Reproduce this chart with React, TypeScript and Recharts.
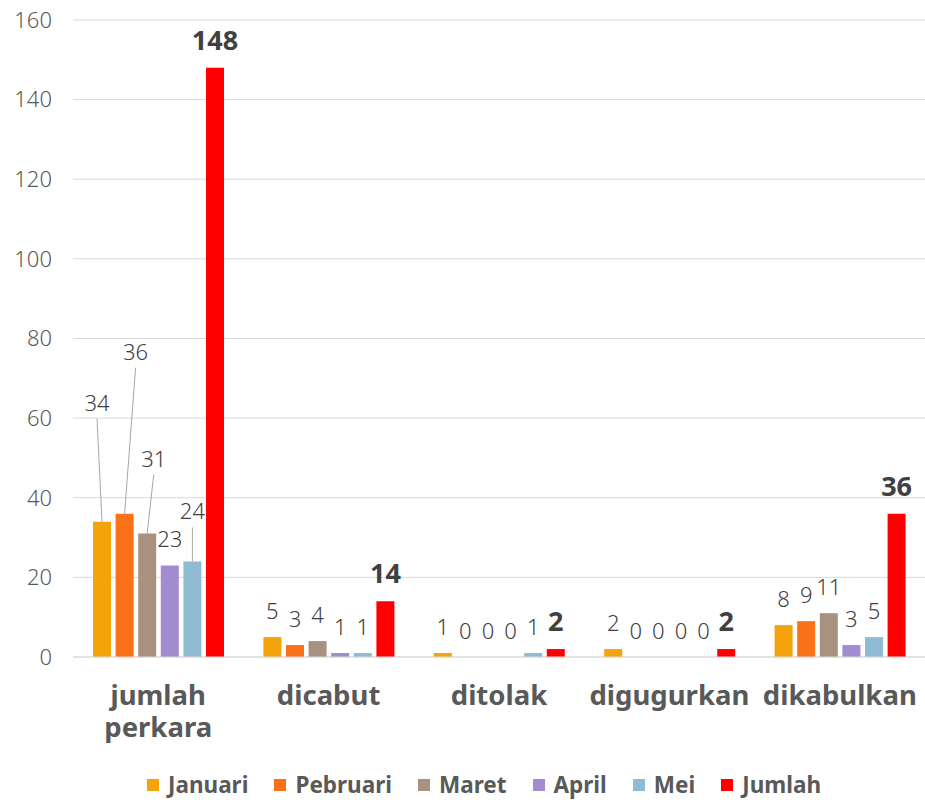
import React from 'react';
import { BarChart, Bar, XAxis, YAxis, CartesianGrid, LabelList, Legend } from 'recharts';

document.body.style.margin = '0';

const categories = ['jumlah perkara', 'dicabut', 'ditolak', 'digugurkan', 'dikabulkan'];
const januari = [34, 5, 1, 2, 8];
const pebruari = [36, 3, 0, 0, 9];
const maret = [31, 4, 0, 0, 11];
const april = [23, 1, 0, 0, 3];
const mei = [24, 1, 1, 0, 5];
const jumlah = [148, 14, 2, 2, 36];
const yTicks = [0, 20, 40, 60, 80, 100, 120, 140, 160];

const series = [
  { key: 'Januari', values: januari, color: '#F4A30A' },
  { key: 'Pebruari', values: pebruari, color: '#FB7118' },
  { key: 'Maret', values: maret, color: '#A99180' },
  { key: 'April', values: april, color: '#A28BCF' },
  { key: 'Mei', values: mei, color: '#8FBBD3' },
  { key: 'Jumlah', values: jumlah, color: '#FF0000' },
];

const data = categories.map((name, i) => {
  const row: Record<string, string | number> = { name };
  series.forEach(s => { row[s.key] = s.values[i]; });
  return row;
});

const FONT = '"Noto Sans", "DejaVu Sans", sans-serif';

// labels in the first group are pulled up with leader lines, like the original
const leaderOffsets: Record<string, { dx: number; dy: number }> = {
  Januari: { dx: -5, dy: -93 },
  Pebruari: { dx: 11, dy: -136 },
  Maret: { dx: 6.5, dy: -49 },
  Mei: { dx: 0, dy: -24 },
};

const makeLabel = (key: string, bold: boolean) => (props: any) => {
  const { x, y, width, value, index } = props;
  const cx = Number(x) + Number(width) / 2;
  const top = Number(y);
  const off = index === 0 ? leaderOffsets[key] : undefined;
  const dx = off ? off.dx : 0;
  const dy = off ? off.dy : 0;
  const baseline = top - 18 + dy;
  return (
    <g>
      {off && (
        <line x1={cx} y1={top} x2={cx + dx} y2={baseline + 8} stroke="#a6a6a6" strokeWidth={1} />
      )}
      <text
        x={cx + dx}
        y={baseline}
        textAnchor="middle"
        fill="#404040"
        fontFamily={FONT}
        fontSize={bold ? 27 : 22}
        fontWeight={bold ? 700 : 300}
      >
        {String(value)}
      </text>
    </g>
  );
};

const CategoryTick = (props: any) => {
  const { x, y, payload } = props;
  const words = String(payload.value).split(' ');
  return (
    <g>
      {words.map((w, i) => (
        <text
          key={i}
          x={x}
          y={Number(y) + 40 + i * 32}
          textAnchor="middle"
          fill="#595959"
          fontFamily={FONT}
          fontSize={27.5}
          fontWeight={700}
        >
          {w}
        </text>
      ))}
    </g>
  );
};

const LegendContent = () => (
  <div
    style={{
      display: 'flex',
      justifyContent: 'center',
      alignItems: 'center',
      height: 24,
      lineHeight: '24px',
      paddingTop: 13,
      paddingLeft: 69,
      fontFamily: FONT,
      fontSize: 22.5,
      fontWeight: 700,
      color: '#595959',
    }}
  >
    {series.map(s => (
      <div key={s.key} style={{ display: 'flex', alignItems: 'center', marginRight: 26 }}>
        <span style={{ display: 'inline-block', width: 12, height: 12, background: s.color, marginRight: 9 }} />
        <span>{s.key}</span>
      </div>
    ))}
  </div>
);

// tiny size for zero values so their "0" labels are still drawn
const zeroSize = (v: number) => (v === 0 ? 0.001 : 0);

export default function App() {
  return (
    <BarChart
      width={925}
      height={800}
      data={data}
      margin={{ top: 20, right: 0, bottom: 0, left: 0 }}
      barSize={18}
      barGap={4.6}
    >
      <CartesianGrid vertical={false} stroke="#d9d9d9" />
      <XAxis
        dataKey="name"
        height={103}
        axisLine={{ stroke: '#d9d9d9' }}
        tickLine={false}
        tick={<CategoryTick />}
        interval={0}
      />
      <YAxis
        width={73}
        domain={[0, 160]}
        ticks={yTicks}
        axisLine={false}
        tickLine={false}
        tickMargin={15}
        tick={{ fill: '#595959', fontSize: 22, fontFamily: FONT, fontWeight: 300 }}
      />
      <Legend verticalAlign="bottom" height={40} content={<LegendContent />} />
      {series.map(s => (
        <Bar key={s.key} dataKey={s.key} fill={s.color} minPointSize={zeroSize} isAnimationActive={false}>
          <LabelList dataKey={s.key} content={makeLabel(s.key, s.key === 'Jumlah')} />
        </Bar>
      ))}
    </BarChart>
  );
}
